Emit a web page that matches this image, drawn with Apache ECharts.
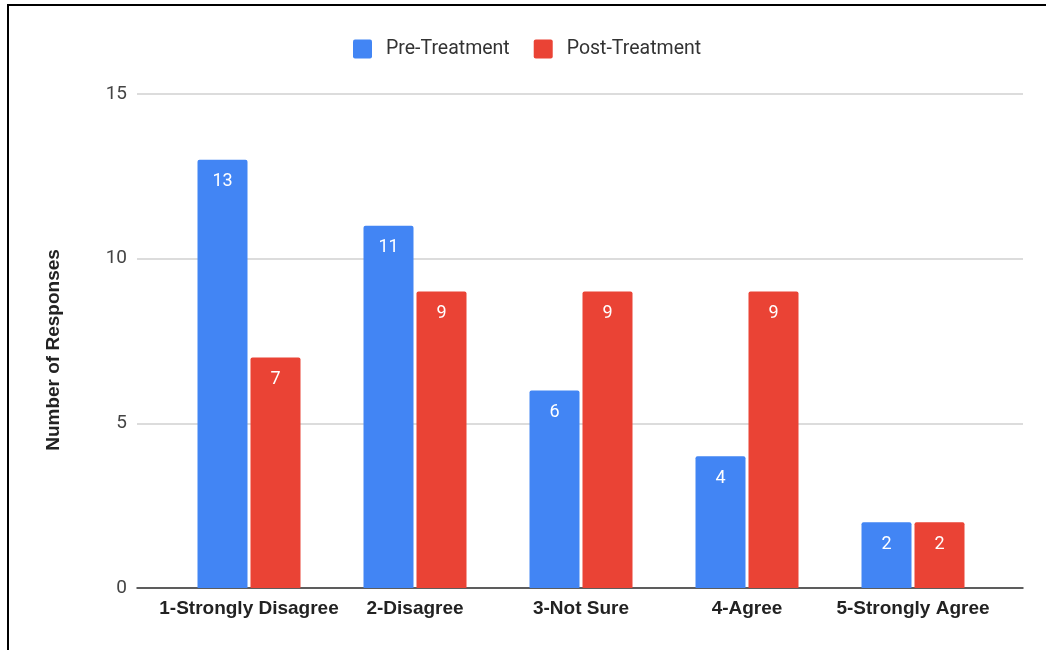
<!DOCTYPE html>
<html>
<head>
<meta charset="utf-8">
<script src="https://cdn.jsdelivr.net/npm/echarts@6/dist/echarts.min.js"></script>
<style>
  html, body { margin: 0; padding: 0; background: #fff; }
  #chart { position: absolute; left: 0; top: 0; width: 1046px; height: 650px; }
  #frame {
    position: absolute; left: 7px; top: 4px; width: 1039px; height: 646px;
    border-top: 2px solid #000; border-left: 2px solid #000;
    box-sizing: border-box; pointer-events: none;
  }
</style>
</head>
<body>
<div id="chart"></div>
<div id="frame"></div>
<script>
// Survey responses per answer, before and after treatment
const categories = ['1-Strongly Disagree', '2-Disagree', '3-Not Sure', '4-Agree', '5-Strongly Agree'];
const preTreatment = [13, 11, 6, 4, 2];
const postTreatment = [7, 9, 9, 9, 2];
const seriesNames = ['Pre-Treatment', 'Post-Treatment'];
const yTicks = { min: 0, max: 15, interval: 5 };

const chart = echarts.init(document.getElementById('chart'));

const barLabel = {
  show: true,
  position: 'insideTop',
  distance: 13,
  color: '#fff',
  fontFamily: 'Roboto',
  fontSize: 18
};

// square legend swatch with slightly softened corners
const swatch = 'path://M2,0 H17 Q19,0 19,2 V17 Q19,19 17,19 H2 Q0,19 0,17 V2 Q0,0 2,0 Z';

chart.setOption({
  animation: false,
  backgroundColor: 'transparent',
  legend: {
    left: 353,
    top: 39,
    padding: 0,
    itemWidth: 19,
    itemHeight: 19,
    itemGap: 24,
    icon: swatch,
    textStyle: { fontFamily: 'Roboto', fontSize: 19.5, color: '#333', padding: [3, 0, 0, 9] },
    data: seriesNames
  },
  grid: [
    // full-width frame: gridlines, value ticks and baseline
    { left: 137, right: 23, top: 94, bottom: 62 },
    // inner band holding the category bars
    { left: 166, right: 50, top: 94, bottom: 62 }
  ],
  xAxis: [
    {
      gridIndex: 0, type: 'value', min: 0, max: 1,
      axisLine: { show: true, onZero: false, lineStyle: { color: '#333', width: 1.5 } },
      axisTick: { show: false }, axisLabel: { show: false }, splitLine: { show: false }
    },
    {
      gridIndex: 1, type: 'category', data: categories,
      axisLine: { show: false }, axisTick: { show: false },
      axisLabel: {
        margin: 11, fontFamily: 'Liberation Sans', fontWeight: 'bold',
        fontSize: 19, color: '#222', interval: 0
      }
    }
  ],
  yAxis: [
    {
      gridIndex: 0, type: 'value',
      min: yTicks.min, max: yTicks.max, interval: yTicks.interval,
      name: 'Number of Responses', nameLocation: 'middle', nameRotate: 90, nameGap: 74,
      nameTextStyle: {
        fontFamily: 'Liberation Sans', fontWeight: 'bold', fontSize: 19, color: '#222',
        padding: [0, 18, 0, 0]
      },
      axisLine: { show: false }, axisTick: { show: false },
      axisLabel: { margin: 10, fontFamily: 'Roboto', fontSize: 19, color: '#444' },
      splitLine: { lineStyle: { color: '#d0d0d0', width: 1.5 } }
    },
    {
      gridIndex: 1, type: 'value',
      min: yTicks.min, max: yTicks.max, interval: yTicks.interval,
      show: false, splitLine: { show: false }
    }
  ],
  series: [
    {
      name: seriesNames[0], type: 'bar', xAxisIndex: 1, yAxisIndex: 1,
      data: preTreatment, barWidth: 50, barGap: '6%',
      itemStyle: { color: '#4285F4', borderRadius: [2, 2, 0, 0] },
      label: barLabel
    },
    {
      name: seriesNames[1], type: 'bar', xAxisIndex: 1, yAxisIndex: 1,
      data: postTreatment, barWidth: 50, barGap: '6%',
      itemStyle: { color: '#EA4335', borderRadius: [2, 2, 0, 0] },
      label: barLabel
    }
  ]
});
</script>
</body>
</html>
